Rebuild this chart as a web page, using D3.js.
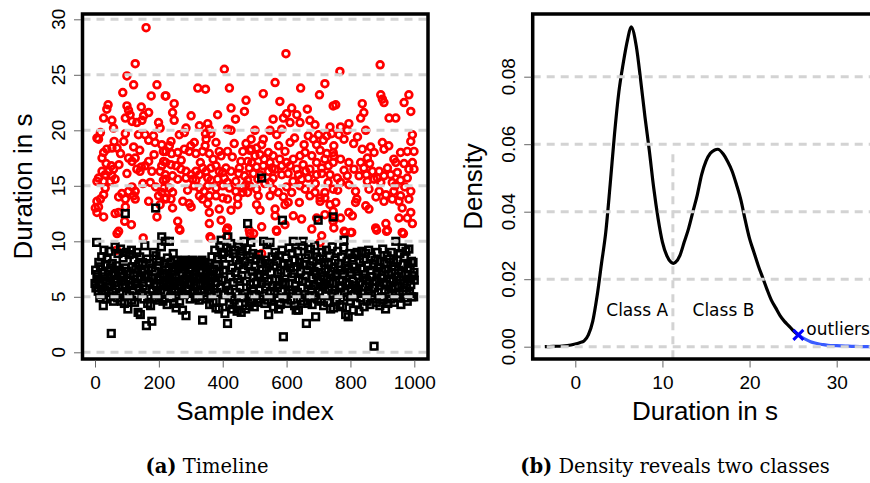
<!DOCTYPE html>
<html><head><meta charset="utf-8">
<script src="https://cdn.jsdelivr.net/npm/d3@7"></script>
<style>body{margin:0;background:#fff}svg{display:block}</style>
</head><body>
<svg id="c" width="870" height="483"></svg>
<script>
// ---------- Panel (a): timeline data [sample index, duration in s] ----------
const redPoints = [
[160,29.25],[126,26.0],[100,24.9],[121,24.1],[194,24.1],[87,23.4],[176,23.1],[220,23.1],[100,22.2],[105,21.8],
[41,22.3],[37,21.9],[145,22.1],[27,21.1],[53,20.9],[58,20.2],[95,21.1],[110,21.4],[116,20.8],[131,20.7],
[147,20.9],[152,21.3],[168,21.6],[199,20.7],[204,20.2],[17,19.8],[6,19.3],[11,19.2],[95,19.7],[90,19.0],
[136,19.6],[157,19.6],[168,19.1],[183,19.5],[188,18.9],[209,18.7],[214,18.1],[121,18.5],[69,18.4],[53,18.4],
[37,18.3],[27,18.0],[22,17.5],[105,17.5],[116,17.2],[126,17.5],[168,17.2],[157,16.8],[145,16.7],[131,16.5],
[141,16.3],[51,16.8],[58,16.5],[43,16.3],[22,16.3],[32,16.0],[53,15.9],[63,15.6],[11,15.7],[6,15.4],
[27,15.4],[48,15.4],[215,17.2],[209,16.8],[204,16.3],[220,16.0],[214,15.5],[178,16.3],[173,15.3],[215,14.8],
[209,14.4],[220,13.8],[199,14.1],[116,14.9],[126,14.5],[105,14.5],[84,14.3],[74,14.0],[95,13.8],[126,13.8],
[121,14.1],[32,14.8],[27,14.2],[17,13.8],[6,13.6],[11,13.1],[1,13.0],[6,12.6],[27,12.2],[63,12.5],
[74,12.6],[95,13.1],[168,13.6],[204,13.3],[194,12.2],[93,11.8],[114,11.5],[74,10.9],[69,10.7],[151,10.3],
[68,9.2],[80,17.9],[140,18.2],[185,17.8],[60,19.0],[100,16.1],[150,15.2],[190,14.9],[35,17.0],[75,16.9],
[222,17.1],[238,16.9],[254,16.8],[269,16.5],[285,16.3],[301,16.0],[316,16.3],[337,16.6],[348,16.3],[327,16.0],
[363,16.6],[379,16.8],[389,16.3],[400,16.2],[410,16.6],[426,16.3],[243,15.9],[259,15.6],[222,15.6],[285,15.7],
[306,15.6],[316,15.5],[353,15.7],[363,15.5],[384,15.6],[405,15.7],[415,15.3],[441,15.4],[468,15.9],[478,15.5],
[233,14.8],[243,14.4],[222,13.9],[238,13.8],[327,14.8],[342,14.5],[353,15.0],[379,14.8],[400,15.0],[421,14.8],
[441,14.5],[463,14.8],[478,14.4],[473,15.1],[327,14.1],[337,13.8],[358,14.1],[379,14.1],[400,13.9],[415,13.8],
[447,13.9],[463,14.4],[275,13.6],[301,13.1],[295,13.4],[243,13.0],[353,13.4],[389,12.9],[426,12.8],[447,13.3],
[358,12.6],[395,11.9],[358,11.6],[259,11.8],[264,11.1],[363,10.3],[415,11.2],[483,11.0],[405,25.5],[322,23.8],
[346,23.7],[421,23.8],[473,22.7],[468,21.7],[222,23.1],[248,22.4],[243,21.6],[248,20.9],[426,22.0],[384,21.4],
[440,21.0],[301,21.3],[327,20.4],[353,20.6],[358,20.1],[346,19.7],[363,19.7],[348,19.2],[285,20.2],[280,19.8],
[264,19.6],[238,19.0],[233,18.6],[222,18.1],[415,20.1],[426,20.0],[379,18.9],[436,18.8],[415,18.1],[473,18.8],
[489,19.2],[311,18.9],[295,18.1],[280,18.3],[259,18.0],[316,17.9],[337,18.1],[358,17.9],[389,18.1],[395,17.7],
[463,18.1],[489,18.3],[478,17.2],[457,17.2],[452,16.6],[483,16.6],[266,11.0],[360,10.4],[412,11.0],[412,10.4],
[270,17.3],[330,17.1],[370,17.4],[430,17.6],[290,14.6],[310,15.0],[450,16.1],[240,17.9],[300,18.6],[345,18.6],
[598,26.9],[564,24.3],[527,23.3],[644,23.8],[720,24.2],[703,23.2],[579,22.6],[616,22.0],[665,21.9],[746,22.2],
[558,21.0],[590,21.1],[600,21.5],[611,20.7],[632,21.4],[642,20.7],[673,20.9],[689,20.5],[501,20.0],[527,19.2],
[548,20.0],[569,19.6],[585,20.1],[522,18.7],[506,18.4],[611,18.9],[595,18.1],[668,19.5],[684,19.2],[694,18.7],
[736,20.3],[741,19.7],[726,19.5],[715,19.1],[485,18.2],[501,17.7],[517,17.8],[543,18.0],[558,17.7],[579,17.4],
[600,17.1],[621,17.4],[642,17.7],[658,18.0],[679,17.7],[705,18.2],[726,17.9],[746,18.0],[491,17.1],[506,16.7],
[527,16.8],[548,17.1],[564,16.5],[585,16.8],[611,16.8],[632,16.5],[652,16.9],[673,16.5],[694,17.1],[710,16.6],
[731,16.8],[746,17.1],[496,16.1],[517,16.0],[543,16.3],[558,15.7],[585,16.0],[605,16.1],[637,16.0],[647,15.6],
[668,15.7],[694,16.0],[710,16.1],[736,16.0],[485,15.0],[506,14.7],[532,15.2],[548,15.3],[558,14.7],[574,14.4],
[600,14.9],[616,14.4],[642,15.0],[658,14.7],[673,14.1],[689,14.4],[705,13.9],[720,14.4],[746,14.7],[511,14.1],
[506,13.3],[548,14.1],[517,12.8],[595,13.3],[605,13.5],[705,13.6],[720,13.9],[736,13.3],[746,12.7],[564,12.9],
[564,12.3],[621,12.3],[647,12.0],[595,11.5],[569,10.9],[522,11.3],[679,11.1],[720,12.4],[694,12.1],[710,10.5],
[746,11.8],[485,10.7],[522,8.9],[705,9.9],[497,10.7],[568,11.0],[530,17.4],[575,18.6],[625,19.3],[660,16.3],
[690,15.2],[720,17.4],[555,16.6],[620,15.4],[655,18.7],[700,19.6],[510,15.6],[590,14.0],[640,13.5],[730,15.3],
[767,25.3],[893,25.9],[895,23.2],[900,22.8],[905,22.5],[983,23.2],[968,22.5],[989,21.7],[837,22.4],[842,21.6],
[832,21.1],[754,22.3],[921,21.1],[942,21.1],[769,20.3],[795,20.6],[790,20.0],[822,19.4],[848,20.0],[764,19.6],
[780,19.2],[748,18.6],[994,19.6],[989,19.0],[900,18.9],[905,18.3],[837,18.3],[863,18.5],[874,18.0],[853,17.5],
[832,17.1],[769,17.4],[795,17.1],[748,17.7],[936,17.4],[957,18.0],[978,18.1],[999,18.1],[942,17.1],[968,17.0],
[994,17.1],[983,16.5],[999,16.5],[811,16.5],[842,16.6],[869,16.3],[890,16.3],[916,16.6],[926,16.0],[947,16.2],
[827,15.9],[790,15.9],[759,15.7],[884,15.7],[905,15.9],[978,15.7],[957,15.5],[769,15.3],[795,15.1],[895,15.3],
[931,15.3],[853,15.4],[874,15.6],[816,14.5],[858,14.7],[890,14.5],[911,14.2],[936,14.5],[957,14.1],[989,14.5],
[983,13.8],[905,13.6],[931,13.8],[952,13.6],[816,13.5],[848,13.2],[858,12.9],[795,12.6],[806,12.3],[754,13.5],
[769,12.1],[748,12.1],[962,13.0],[989,12.6],[952,12.1],[978,12.1],[994,11.6],[879,11.2],[911,11.6],[916,11.0],
[780,10.9],[801,10.8],[748,11.2],[962,10.8],[966,10.7],[804,10.8],[783,10.8],[882,11.0],[913,10.9],[810,18.8],
[860,17.0],[920,18.6],[780,16.4],[880,14.0],[940,15.0],[820,13.8],[760,14.6],[970,14.9],[850,16.0]
];
const blackPoints = [
[0,6.2],[2,7.4],[3,5.8],[5,9.9],[6,6.6],[8,7.0],[10,5.5],[12,8.1],[13,6.3],[15,4.9],[17,7.7],[19,6.0],[21,8.6],[22,5.2],
[24,7.2],[26,4.2],[28,9.2],[29,6.8],[31,5.6],[33,7.9],[35,6.4],[37,4.8],[38,8.4],[40,5.9],[42,7.3],[44,9.1],[46,6.1],[47,5.0],
[49,7.6],[51,1.7],[53,6.9],[54,8.0],[56,5.4],[58,4.6],[60,7.1],[62,6.3],[63,9.5],[65,5.7],[67,7.8],[69,6.6],[71,4.9],[72,8.9],
[74,6.0],[76,7.4],[78,5.3],[80,9.3],[81,6.8],[83,4.6],[85,7.1],[87,5.9],[88,8.5],[90,6.4],[92,4.4],[94,7.6],[95,12.5],[96,6.1],
[98,9.0],[99,5.2],[101,7.3],[103,3.9],[105,6.5],[107,8.8],[108,5.1],[110,7.0],[112,6.0],[114,9.2],[115,4.7],[117,7.7],[119,5.6],
[121,6.9],[122,8.3],[124,4.5],[126,6.2],[128,7.5],[130,5.0],[131,9.0],[133,6.6],[135,3.6],[137,7.9],[138,5.8],[140,8.6],[142,3.4],
[144,6.8],[146,7.2],[147,5.3],[149,8.1],[151,6.0],[153,4.8],[154,7.4],[156,9.6],[158,5.7],[160,6.9],[161,2.4],[163,8.4],[165,4.4],
[167,7.0],[169,6.3],[170,5.1],[172,8.0],[174,4.2],[176,6.7],[178,2.8],[179,7.6],[181,5.5],[183,9.0],[185,6.2],[187,4.9],[188,7.3],
[190,13.0],[191,8.7],[193,6.0],[195,5.2],[197,7.8],[199,6.5],[200,4.7],[202,8.2],[204,6.8],[206,5.6],[208,9.5],[209,10.4],[211,7.1],
[213,4.6],[215,6.3],[217,8.0],[218,5.4],[220,10.0],[222,7.4],[224,6.1],[226,4.3],[227,8.5],[229,5.9],[231,7.7],[233,10.0],[235,6.6],
[236,4.9],[238,8.1],[240,5.7],[242,7.0],[244,6.2],[245,8.9],[247,4.4],[249,7.3],[251,5.5],[253,6.8],[254,4.0],[256,8.3],[258,6.0],
[260,7.5],[262,5.1],[263,7.9],[265,4.6],[267,6.4],[269,8.2],[271,5.8],[272,7.1],[274,3.8],[276,8.0],[278,6.5],[280,5.2],[281,7.7],
[283,8.3],[285,3.3],[287,6.9],[289,7.9],[290,5.6],[292,8.2],[294,6.3],[296,7.4],[298,4.8],[299,8.0],[301,6.1],[303,7.6],[305,8.3],
[307,5.3],[308,7.0],[310,6.4],[312,8.1],[314,4.9],[316,7.3],[317,6.0],[319,8.2],[321,5.5],[323,7.8],[325,6.7],[326,4.7],[328,8.0],
[330,6.2],[332,7.2],[334,5.6],[335,8.3],[337,2.9],[339,6.6],[341,7.9],[343,5.1],[344,8.1],[346,6.4],[348,7.0],[350,4.8],[352,7.7],
[353,5.9],[355,6.8],[357,8.0],[359,4.3],[361,7.3],[362,6.1],[364,5.3],[366,8.6],[368,6.9],[370,4.5],[371,7.5],[373,5.7],[375,9.2],
[377,6.3],[379,4.0],[380,7.9],[382,5.4],[384,8.4],[386,6.7],[388,3.9],[389,7.1],[391,9.6],[393,5.8],[395,10.1],[397,6.5],[398,8.8],
[400,4.6],[402,7.4],[404,9.0],[406,5.2],[407,3.5],[409,7.9],[411,6.0],[413,9.4],[415,2.6],[416,10.4],[418,5.6],[420,8.5],[422,4.3],
[424,6.8],[425,9.8],[427,5.0],[429,7.6],[431,3.9],[433,8.9],[434,6.3],[436,4.7],[438,9.2],[440,7.2],[442,5.4],[443,8.3],[445,3.7],
[447,6.6],[449,9.5],[451,4.4],[452,7.9],[454,5.8],[456,8.7],[458,3.6],[460,6.9],[461,9.1],[463,4.9],[465,7.5],[467,10.0],[469,5.3],
[470,8.2],[472,3.9],[474,6.4],[476,9.3],[478,11.6],[479,5.0],[481,7.8],[483,4.2],[485,8.6],[487,6.1],[488,9.9],[490,4.6],[492,7.3],
[494,8.9],[496,5.7],[497,6.8],[499,4.1],[501,7.7],[503,5.2],[505,8.4],[506,6.3],[508,4.5],[510,7.0],[512,8.8],[514,5.6],[515,6.9],
[517,4.8],[519,8.1],[521,6.2],[522,15.7],[524,7.4],[526,5.1],[528,10.0],[530,6.7],[532,4.4],[533,8.3],[535,5.9],[537,7.6],[539,9.7],
[541,4.7],[542,6.4],[544,3.4],[546,8.0],[548,9.9],[550,5.5],[551,7.2],[553,4.6],[555,8.6],[557,6.0],[559,4.1],[560,7.8],[562,5.3],
[564,9.0],[566,6.6],[568,4.9],[569,8.2],[571,5.8],[573,7.1],[575,3.9],[577,6.5],[578,8.7],[580,4.3],[582,7.4],[584,5.5],[586,9.2],
[587,11.9],[589,6.3],[590,1.4],[592,7.9],[594,4.8],[596,6.1],[598,8.5],[599,5.0],[601,7.2],[603,4.4],[605,8.0],[607,6.2],[608,9.4],
[610,5.3],[612,7.6],[614,4.7],[616,6.8],[617,8.9],[619,5.6],[621,10.0],[623,7.1],[625,4.2],[626,8.3],[628,6.0],[630,3.8],[632,7.7],
[634,5.4],[635,9.1],[637,3.8],[639,6.6],[641,8.1],[643,4.9],[644,7.3],[646,5.8],[648,9.6],[650,6.4],[652,10.0],[653,4.6],[655,7.9],
[657,5.2],[659,8.5],[661,6.9],[662,2.6],[664,7.4],[666,4.4],[668,8.8],[670,6.1],[671,5.0],[673,7.8],[675,9.3],[677,5.7],[679,6.7],
[680,4.3],[682,8.2],[684,6.0],[686,7.3],[688,9.6],[689,5.1],[691,3.2],[693,7.0],[695,8.6],[697,4.8],[698,6.5],[699,11.9],[700,7.7],
[702,5.5],[704,8.4],[706,6.3],[707,4.6],[709,7.2],[711,9.0],[713,5.9],[715,6.8],[716,4.2],[718,8.1],[720,6.1],[722,7.5],[724,5.1],
[725,9.2],[727,6.6],[729,4.5],[731,7.9],[733,5.7],[734,8.7],[736,6.4],[738,3.9],[740,7.3],[742,5.3],[743,9.5],[745,6.2],[746,12.2],
[747,4.0],[749,7.6],[751,5.6],[752,8.3],[754,6.9],[756,4.7],[758,7.1],[760,9.1],[761,5.2],[763,8.0],[765,6.0],[767,4.3],[769,7.4],
[770,5.8],[772,8.6],[774,6.5],[775,4.1],[777,7.0],[779,9.4],[780,10.1],[782,5.4],[784,7.8],[785,3.4],[787,6.3],[789,8.2],[791,5.0],
[793,3.2],[794,7.5],[796,6.1],[798,8.9],[800,4.6],[802,7.2],[803,5.7],[805,8.5],[807,6.4],[809,3.8],[811,7.7],[812,5.2],[814,8.8],
[816,6.0],[818,4.4],[820,7.3],[821,9.0],[823,5.6],[825,6.9],[827,3.7],[829,8.1],[830,6.3],[832,4.9],[834,7.6],[836,9.1],[838,5.3],
[839,6.7],[841,8.4],[843,4.1],[845,7.0],[847,5.9],[848,8.9],[850,6.5],[852,4.6],[854,7.8],[856,5.5],[857,9.2],[859,6.2],[861,4.3],
[863,7.4],[865,8.6],[866,5.1],[868,6.8],[870,4.8],[872,7.9],[874,0.55],[875,5.8],[877,8.3],[879,6.4],[881,4.5],[883,7.1],[884,9.0],
[886,5.4],[888,7.6],[890,6.0],[892,4.2],[893,8.2],[895,6.7],[897,5.0],[899,7.3],[901,9.3],[902,4.7],[904,6.3],[906,8.0],[908,5.6],
[910,3.9],[911,7.5],[913,6.1],[915,8.7],[917,4.4],[919,7.0],[920,5.3],[922,8.4],[924,6.6],[926,4.8],[928,9.0],[929,7.2],[931,5.7],
[933,6.4],[935,8.1],[937,4.5],[938,7.7],[940,5.9],[942,10.0],[944,6.8],[946,4.9],[947,8.3],[949,6.0],[951,7.4],[953,5.2],[955,8.9],
[956,6.5],[958,4.3],[960,7.1],[962,9.4],[964,5.5],[965,7.9],[967,6.2],[969,8.6],[971,4.9],[973,7.0],[974,9.1],[976,5.8],[978,4.6],
[980,8.0],[982,6.6],[983,9.3],[985,5.3],[987,7.5],[989,6.1],[991,8.2],[992,5.0],[994,6.9],[996,8.1],[998,5.0],[999,7.2],[1000,6.5],
[216,7.0],[232,6.2],[246,7.6],[264,6.0],[282,6.6],[297,7.0],[311,6.8],[329,7.4],[347,6.0],[363,7.0],[237,5.0],[273,5.4],[318,5.0],[356,5.6]
];
const timelineXTicks = [0, 200, 400, 600, 800, 1000];
const timelineYTicks = [0, 5, 10, 15, 20, 25, 30];

// ---------- Panel (b): density estimate ----------
const densityX = [-3.5,-2.5,-1.5,-0.5,0,0.5,1,1.5,2,2.5,3,3.5,4,4.5,5,5.5,6,6.4,7,7.5,8,8.5,9,9.5,10,10.5,11,11.25,11.5,12,12.5,13,13.5,14,14.5,15,15.5,16,16.35,17,17.5,18,18.5,19,19.5,20,20.5,21,21.5,22,22.5,23,23.5,24,24.5,25,25.6];
const densityY = [0,0.0001,0.0002,0.0005,0.0008,0.0012,0.0017,0.0035,0.0075,0.015,0.0245,0.034,0.048,0.063,0.0755,0.084,0.091,0.0948,0.089,0.079,0.068,0.058,0.047,0.038,0.031,0.027,0.025,0.0247,0.025,0.027,0.031,0.035,0.040,0.045,0.051,0.055,0.0573,0.0583,0.0585,0.0570,0.0548,0.052,0.048,0.0435,0.0375,0.032,0.028,0.024,0.0205,0.017,0.0138,0.0115,0.0092,0.0075,0.0062,0.0048,0.0035];
const outlierX = [25.6,26,26.5,27,27.5,28,28.5,29,30,31,32,33,34,35];
const outlierY = [0.0035,0.0028,0.0021,0.0015,0.0011,0.0008,0.0006,0.0004,0.0003,0.0002,0.0001,0.00005,0,0];
const densityXTicks = [0, 10, 20, 30];
const densityYTicks = [0, 0.02, 0.04, 0.06, 0.08];
const classSplit = 11.2;
const classSplitTop = 0.057;
const outlierMark = [25.6, 0.0035];
const classLabels = [{text:"Class A", x:7.1}, {text:"Class B", x:17.0}];
const classLabelY = 0.0091;

// ---------- drawing ----------
const svg = d3.select("#c");
svg.append("rect").attr("width",870).attr("height",483).attr("fill","#fff");
const SANS = "'Liberation Sans', Arial, Helvetica, sans-serif";
const GRID = "#d3d3d3";

// Panel (a)
const A = {l:82.5, r:428, t:14, b:359};
const xa = d3.scaleLinear().domain([0,1000]).range([95,414.3]);
const ya = d3.scaleLinear().domain([0,30]).range([352.3,19.3]);
const ga = svg.append("g");
ga.append("clipPath").attr("id","clipA").append("rect")
  .attr("x",A.l).attr("y",A.t).attr("width",A.r-A.l).attr("height",A.b-A.t);
const pa = ga.append("g").attr("clip-path","url(#clipA)");
pa.selectAll("circle.r").data(redPoints).join("circle").attr("class","r")
  .attr("cx",d=>xa(d[0])).attr("cy",d=>ya(d[1])).attr("r",3.4)
  .attr("fill","none").attr("stroke","#ff0000").attr("stroke-width",2.7);
pa.selectAll("rect.k").data(blackPoints).join("rect").attr("class","k")
  .attr("x",d=>xa(d[0])-3.3).attr("y",d=>ya(d[1])-3.3).attr("width",6.6).attr("height",6.6)
  .attr("fill","none").attr("stroke","#000").attr("stroke-width",2.6);
pa.selectAll("line.g").data(timelineYTicks).join("line").attr("class","g")
  .attr("x1",A.l).attr("x2",A.r).attr("y1",d=>ya(d)).attr("y2",d=>ya(d))
  .attr("stroke",GRID).attr("stroke-width",3).attr("stroke-dasharray","8,6");
ga.append("rect").attr("x",A.l).attr("y",A.t).attr("width",A.r-A.l).attr("height",A.b-A.t)
  .attr("fill","none").attr("stroke","#000").attr("stroke-width",3.5);

const axA = ga.append("g").attr("transform",`translate(0,${A.b})`)
  .call(d3.axisBottom(xa).tickValues(timelineXTicks).tickSize(7).tickPadding(10).tickFormat(d3.format("d")));
axA.select(".domain").remove();
axA.selectAll("line").attr("stroke","#666").attr("transform","translate(0,1.5)");
axA.selectAll("text").attr("font-family",SANS).attr("font-size",19).attr("fill","#000");
const ayA = ga.append("g").attr("transform",`translate(${A.l},0)`)
  .call(d3.axisLeft(ya).tickValues(timelineYTicks).tickSize(7).tickFormat(""));
ayA.select(".domain").remove();
ayA.selectAll("line").attr("stroke","#666").attr("transform","translate(-1.5,0)");
ga.selectAll("text.yl").data(timelineYTicks).join("text").attr("class","yl")
  .attr("transform",d=>`translate(65,${ya(d)}) rotate(-90)`).attr("text-anchor","middle")
  .attr("font-family",SANS).attr("font-size",19).text(d=>d);
ga.append("text").attr("x",255).attr("y",420).attr("text-anchor","middle")
  .attr("font-family",SANS).attr("font-size",26).text("Sample index");
ga.append("text").attr("transform","translate(32,186.5) rotate(-90)").attr("text-anchor","middle")
  .attr("font-family",SANS).attr("font-size",26).text("Duration in s");

// Panel (b)
const B = {l:532.7, r:877.3, t:14, b:359};
const xb = d3.scaleLinear().domain([0,30]).range([575.3,836.7]);
const yb = d3.scaleLinear().domain([0,0.08]).range([346.7,76.7]);
const gb = svg.append("g");
gb.append("clipPath").attr("id","clipB").append("rect")
  .attr("x",B.l).attr("y",B.t).attr("width",B.r-B.l).attr("height",B.b-B.t);
const pb = gb.append("g").attr("clip-path","url(#clipB)");
const line = d3.line().x(d=>xb(d[0])).y(d=>yb(d[1])).curve(d3.curveMonotoneX);
pb.append("path").datum(densityX.map((x,i)=>[x,densityY[i]])).attr("d",line)
  .attr("fill","none").attr("stroke","#000").attr("stroke-width",3.2);
pb.append("path").datum(outlierX.map((x,i)=>[x,outlierY[i]])).attr("d",line)
  .attr("fill","none").attr("stroke","#3a5cff").attr("stroke-width",3.2);
pb.selectAll("line.g").data(densityYTicks).join("line").attr("class","g")
  .attr("x1",B.l).attr("x2",B.r).attr("y1",d=>yb(d)).attr("y2",d=>yb(d))
  .attr("stroke",GRID).attr("stroke-width",3).attr("stroke-dasharray","8,6");
pb.append("line").attr("x1",xb(classSplit)).attr("x2",xb(classSplit))
  .attr("y1",yb(classSplitTop)).attr("y2",B.b)
  .attr("stroke",GRID).attr("stroke-width",3).attr("stroke-dasharray","8,6");
const mx = xb(outlierMark[0]), my = yb(outlierMark[1]);
pb.append("path").attr("d",`M${mx-5},${my-5}L${mx+5},${my+5}M${mx-5},${my+5}L${mx+5},${my-5}`)
  .attr("stroke","#0000ff").attr("stroke-width",3);
pb.selectAll("text.cl").data(classLabels).join("text").attr("class","cl")
  .attr("x",d=>xb(d.x)).attr("y",yb(classLabelY)).attr("text-anchor","middle")
  .attr("font-family","'DejaVu Sans', sans-serif").attr("font-size",17).text(d=>d.text);
pb.append("text").attr("x",mx+8).attr("y",my).attr("font-family","'DejaVu Sans', sans-serif")
  .attr("font-size",17).text("outliers");
gb.append("rect").attr("x",B.l).attr("y",B.t).attr("width",B.r-B.l).attr("height",B.b-B.t)
  .attr("fill","none").attr("stroke","#000").attr("stroke-width",3.5);

const axB = gb.append("g").attr("transform",`translate(0,${B.b})`)
  .call(d3.axisBottom(xb).tickValues(densityXTicks).tickSize(7).tickPadding(10).tickFormat(d3.format("d")));
axB.select(".domain").remove();
axB.selectAll("line").attr("stroke","#666").attr("transform","translate(0,1.5)");
axB.selectAll("text").attr("font-family",SANS).attr("font-size",19).attr("fill","#000");
const ayB = gb.append("g").attr("transform",`translate(${B.l},0)`)
  .call(d3.axisLeft(yb).tickValues(densityYTicks).tickSize(7).tickFormat(""));
ayB.select(".domain").remove();
ayB.selectAll("line").attr("stroke","#666").attr("transform","translate(-1.5,0)");
gb.selectAll("text.yl").data(densityYTicks).join("text").attr("class","yl")
  .attr("transform",d=>`translate(515,${yb(d)}) rotate(-90)`).attr("text-anchor","middle")
  .attr("font-family",SANS).attr("font-size",19).text(d=>d3.format(".2f")(d));
gb.append("text").attr("x",705).attr("y",420).attr("text-anchor","middle")
  .attr("font-family",SANS).attr("font-size",26).text("Duration in s");
gb.append("text").attr("transform","translate(481.7,186.5) rotate(-90)").attr("text-anchor","middle")
  .attr("font-family",SANS).attr("font-size",26).text("Density");

// Captions
const captions = [{tag:"(a)", text:" Timeline", x:207}, {tag:"(b)", text:" Density reveals two classes", x:675}];
const cap = svg.selectAll("text.cap").data(captions).join("text").attr("class","cap")
  .attr("x",d=>d.x).attr("y",473).attr("text-anchor","middle")
  .attr("font-family","'DejaVu Serif', serif").attr("font-size",19.5);
cap.append("tspan").attr("font-weight","bold").text(d=>d.tag);
cap.append("tspan").text(d=>d.text);
</script>
</body></html>
